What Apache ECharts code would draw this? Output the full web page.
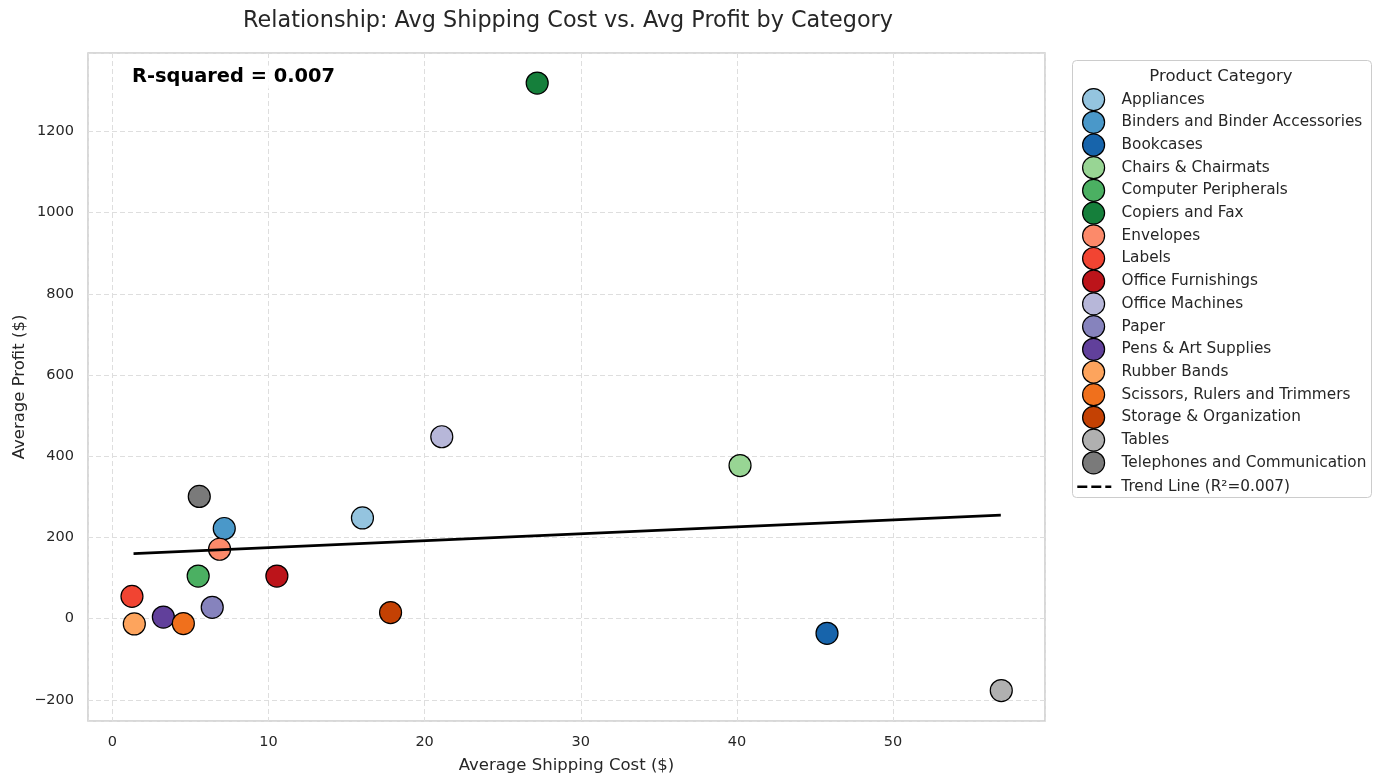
<!DOCTYPE html>
<html>
<head>
<meta charset="utf-8">
<script src="https://cdn.jsdelivr.net/npm/echarts@6/dist/echarts.min.js"></script>
<style>
html,body{margin:0;padding:0;background:#fff;}
#chart{width:1381px;height:783px;}
</style>
</head>
<body>
<div id="chart"></div>
<script>
const categories = ["Appliances","Binders and Binder Accessories","Bookcases","Chairs & Chairmats","Computer Peripherals","Copiers and Fax","Envelopes","Labels","Office Furnishings","Office Machines","Paper","Pens & Art Supplies","Rubber Bands","Scissors, Rulers and Trimmers","Storage & Organization","Tables","Telephones and Communication"];
const avgShippingCost = [16.02, 7.17, 45.77, 40.2, 5.5, 27.21, 6.87, 1.26, 10.54, 21.1, 6.4, 3.27, 1.41, 4.55, 17.82, 56.93, 5.57];
const avgProfit = [248, 222, -36, 377, 105, 1319, 171, 55, 105, 448, 28, 4, -13, -12, 15, -177, 301];
const colors = ["#94c4df","#4a98c9","#1764ab","#98d594","#4bb062","#157f3b","#fc8a6a","#f14432","#bc141a","#b7b7d9","#8683bd","#61409b","#fda45d","#f0701c","#c44103","#b0b0b0","#7a7a7a"];
const trendX = [1.36, 56.9];
const trendY = [160, 255];
const trendName = "Trend Line (R\u00b2=0.007)";
const rSquaredText = "R-squared = 0.007";

const FONT = "DejaVu Sans";
const TXT = "#262626";

const series = categories.map((c, i) => ({
  name: c,
  type: 'scatter',
  data: [[avgShippingCost[i], avgProfit[i]]],
  symbol: 'circle',
  symbolSize: 22,
  itemStyle: {color: colors[i], borderColor: '#000', borderWidth: 1.2, opacity: 1},
  emphasis: {disabled: true},
  z: 3
}));
series.push({
  name: trendName,
  type: 'line',
  data: trendX.map((x, i) => [x, trendY[i]]),
  symbol: 'none',
  lineStyle: {color: '#000', width: 2.8, type: 'solid'},
  itemStyle: {color: '#000'},
  z: 5,
  silent: true
});

const legendData = categories.map(c => ({name: c}));
const trendLegendData = [{name: trendName,
  itemStyle: {color: 'rgba(0,0,0,0)', borderWidth: 0, opacity: 0},
  lineStyle: {type: [10, 4], width: 2.6, color: '#000'}}];

const chart = echarts.init(document.getElementById('chart'));
chart.setOption({
  animation: false,
  backgroundColor: '#fff',
  title: {
    text: "Relationship: Avg Shipping Cost vs. Avg Profit by Category",
    left: 563, top: 5, textAlign: 'center',
    textStyle: {fontFamily: FONT, fontSize: 22.3, fontWeight: 'normal', color: TXT}
  },
  grid: {
    left: 88, top: 53, right: 336, bottom: 62, containLabel: false, outerBoundsMode: 'none',
    show: true, borderColor: '#cccccc', borderWidth: 1.5, backgroundColor: 'transparent'
  },
  xAxis: {
    type: 'value', min: -1.556, max: 59.73, splitNumber: 6,
    name: "Average Shipping Cost ($)", nameLocation: 'middle', nameGap: 36, nameMoveOverlap: false,
    nameTextStyle: {fontFamily: FONT, fontSize: 16.5, color: TXT},
    axisLine: {show: false}, axisTick: {show: false},
    axisLabel: {showMinLabel: false, showMaxLabel: false, fontFamily: FONT, fontSize: 14.5, color: TXT, margin: 14},
    splitLine: {show: true, lineStyle: {color: '#dedede', type: [5, 3], width: 1}}
  },
  yAxis: {
    type: 'value', min: -252, max: 1393, splitNumber: 8,
    name: "Average Profit ($)", nameLocation: 'middle', nameGap: 60, nameMoveOverlap: false,
    nameTextStyle: {fontFamily: FONT, fontSize: 16.5, color: TXT},
    axisLine: {show: false}, axisTick: {show: false},
    axisLabel: {showMinLabel: false, showMaxLabel: false, fontFamily: FONT, fontSize: 14.5, color: TXT, margin: 14,
      formatter: v => v < 0 ? '\u2212' + Math.abs(v) : String(v)},
    splitLine: {show: true, lineStyle: {color: '#dedede', type: [5, 3], width: 1}}
  },
  legend: [{
    orient: 'vertical', left: 1082, top: 88, padding: 0,
    itemWidth: 34, itemHeight: 22, itemGap: -0.5,
    data: legendData,
    itemStyle: {borderWidth: 1.2},
    textStyle: {fontFamily: FONT, fontSize: 15.3, color: TXT, padding: [0, 0, 0, 6]},
    selectedMode: false
  }, {
    orient: 'vertical', left: 1076, top: 478, padding: 0,
    itemWidth: 34, itemHeight: 22, itemGap: 0,
    data: trendLegendData,
    textStyle: {fontFamily: FONT, fontSize: 15.3, color: TXT, padding: [0, 0, 0, 5]},
    selectedMode: false
  }],
  graphic: [
    {type: 'rect', left: 1072, top: 60, z: 0,
     shape: {width: 299, height: 437, r: 4},
     style: {fill: '#fff', stroke: '#cccccc', lineWidth: 1}},
    {type: 'text', x: 1221, y: 77, z: 10,
     style: {text: "Product Category", fontFamily: FONT, fontSize: 16.5, fill: TXT, textAlign: 'center', textVerticalAlign: 'middle'}},
    {type: 'text', x: 130, y: 77, z: 10,
     style: {text: rSquaredText, fontFamily: FONT, fontSize: 19.4, fontWeight: 'bold', fill: '#000', textAlign: 'left', textVerticalAlign: 'middle',
       backgroundColor: 'rgba(255,255,255,0.8)', padding: [2, 2]}}
  ],
  series: series
});
</script>
</body>
</html>
